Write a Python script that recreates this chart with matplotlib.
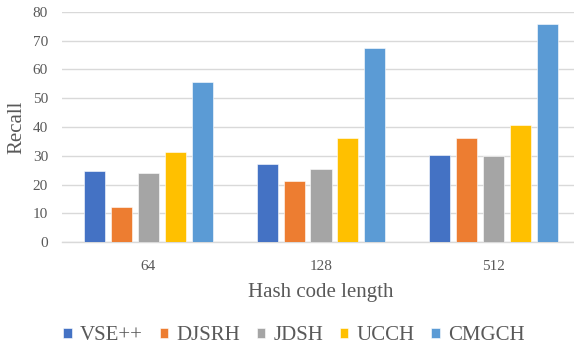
import numpy as np
import matplotlib
matplotlib.use("Agg")
import matplotlib.pyplot as plt

# data
code_lengths = ["64", "128", "512"]
methods = ["VSE++", "DJSRH", "JDSH", "UCCH", "CMGCH"]
vse = [24.7, 27.1, 30.3]
djsrh = [12.1, 21.4, 36.1]
jdsh = [23.9, 25.6, 29.9]
ucch = [31.4, 36.1, 40.7]
cmgch = [55.5, 67.3, 75.6]

colors = ["#4472C4", "#ED7D31", "#A5A5A5", "#FFC000", "#5B9BD5"]
text_color = "#595959"

plt.rcParams["font.family"] = ["Liberation Serif", "DejaVu Serif"]

fig = plt.figure(figsize=(5.74, 3.47), dpi=100)
# axes: left 62px, right ~580px, y=80 at 11.7px, y=0 at 242.3px
ax = fig.add_axes([62 / 574, 1 - 242.3 / 347, 518 / 574, 230.6 / 347])

x = np.arange(len(code_lengths))
bar_w = 0.122
step = 0.156
series = [vse, djsrh, jdsh, ucch, cmgch]
for i, (name, vals) in enumerate(zip(methods, series)):
    offset = (i - 2) * step
    ax.bar(x + offset, vals, width=bar_w, color=colors[i], label=name,
           edgecolor="white", linewidth=0.4, zorder=3)

ax.set_ylim(0, 80)
ax.set_xlim(-0.5, 2.5)
ax.set_yticks(range(0, 81, 10))
ax.set_xticks(x)
ax.set_xticklabels(code_lengths)
ax.yaxis.grid(True, color="#D9D9D9", linewidth=1.0, zorder=0)
ax.set_axisbelow(True)
for side in ["top", "right", "left"]:
    ax.spines[side].set_visible(False)
ax.spines["bottom"].set_color("#D9D9D9")
ax.spines["bottom"].set_linewidth(1.0)
ax.tick_params(axis="both", length=0, labelsize=11, colors=text_color)
ax.tick_params(axis="y", pad=10)
ax.tick_params(axis="x", pad=13)

ax.set_ylabel("Recall", fontsize=15, color=text_color, labelpad=5)
ax.set_xlabel("Hash code length", fontsize=15, color=text_color, labelpad=7)

ax.legend(loc="center", bbox_to_anchor=((294 - 62) / 518, -(336 - 242.3) / 230.6),
          ncol=5, frameon=False, fontsize=15, labelcolor=text_color,
          handlelength=0.4, handleheight=0.4, handletextpad=0.4,
          columnspacing=0.8)

fig.savefig("out.png", dpi=100)
